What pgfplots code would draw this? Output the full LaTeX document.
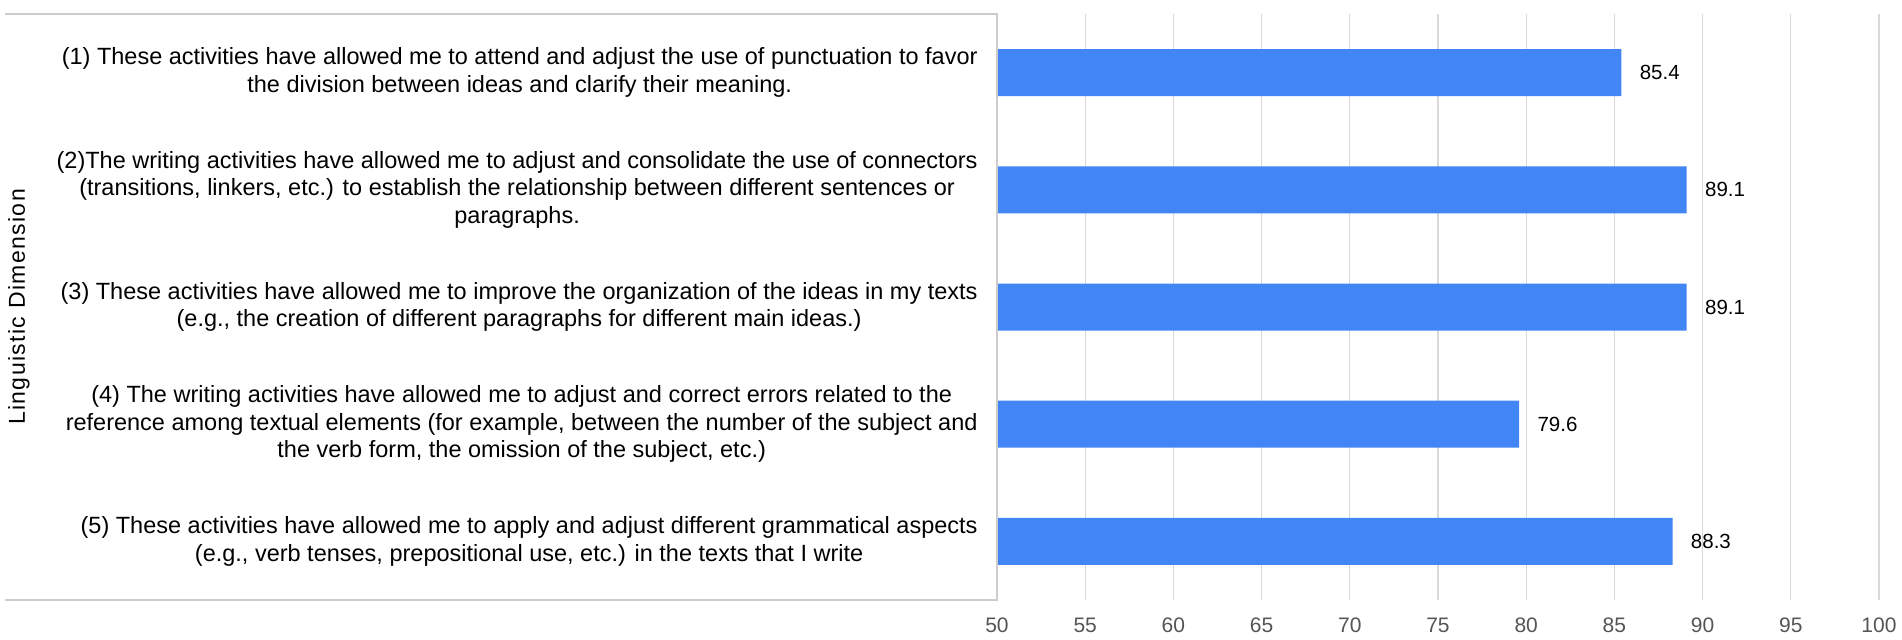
\documentclass[border=0pt]{standalone}
\usepackage{fontspec}
\setmainfont{Liberation Sans}
\usepackage{pgfplots}
\pgfplotsset{compat=1.18}

\definecolor{barblue}{HTML}{4285F4}
\definecolor{gridgray}{HTML}{D9D9D9}
\definecolor{boxgray}{HTML}{CCCCCC}
\definecolor{ticktext}{HTML}{555555}

\begin{document}
\begin{tikzpicture}
\begin{axis}[
    at={(0pt,0pt)}, anchor=south west,
    scale only axis, width=441pt, height=293pt,
    xmin=50, xmax=100, xtick={50,55,...,100},
    ymin=0.5, ymax=5.5, y dir=reverse, ytick={1,...,5},
    yticklabels={
      {(1) These activities have allowed me to attend and adjust the use of punctuation to favor\\the division between ideas and clarify their meaning.},
      {(2)The writing activities have allowed me to adjust and consolidate the use of connectors\\(transitions, linkers, etc.) to establish the relationship between different sentences or\\paragraphs.},
      {(3) These activities have allowed me to improve the organization of the ideas in my texts\\(e.g., the creation of different paragraphs for different main ideas.)},
      {(4) The writing activities have allowed me to adjust and correct errors related to the\\reference among textual elements (for example, between the number of the subject and\\the verb form, the omission of the subject, etc.)},
      {(5) These activities have allowed me to apply and adjust different grammatical aspects\\(e.g., verb tenses, prepositional use, etc.) in the texts that I write}
    },
    yticklabel style={align=center, anchor=east, inner sep=0pt, xshift=-9.5pt,
      font=\fontsize{11.75}{13.8}\selectfont},
    xticklabel style={anchor=center, inner sep=0pt, yshift=-12.5pt,
      font=\fontsize{10.5}{12}\selectfont, text=ticktext},
    /pgf/number format/assume math mode=true,
    axis line style={draw=none},
    major tick length=0pt,
    xmajorgrids, grid style={gridgray, line width=0.6pt},
    xbar, bar width=23.5pt,
    point meta=explicit symbolic,
    nodes near coords,
    nodes near coords style={anchor=west, inner sep=0pt, xshift=9pt,
      font=\fontsize{10.25}{12}\selectfont, text=black},
]
\addplot[fill=barblue, draw=none] coordinates {
  (85.4,1) [85.4]
  (89.1,2) [89.1]
  (89.1,3) [89.1]
  (79.6,4) [79.6]
  (88.3,5) [88.3]
};
\end{axis}
\draw[boxgray, line width=0.7pt] (-496pt,293pt) -- (0pt,293pt) -- (0pt,0pt) -- (-496pt,0pt);
\node[rotate=90, font=\fontsize{11.5}{13.8}\selectfont\addfontfeature{LetterSpace=6}] at (-489pt,146.5pt) {Linguistic Dimension};
\pgfresetboundingbox
\path[use as bounding box] (-498.5pt,-19.5pt) rectangle (452.5pt,300pt);
\end{tikzpicture}
\end{document}
